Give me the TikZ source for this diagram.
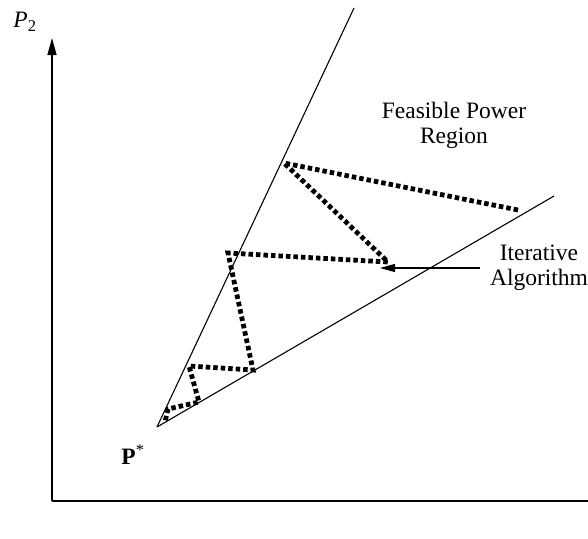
\documentclass[tikz,border=0pt]{standalone}
\usepackage{fontspec}
\setmainfont{Liberation Serif}
\usetikzlibrary{arrows.meta}
\begin{document}
\begin{tikzpicture}[x=1pt,y=-1pt,
  axisline/.style={line width=1.6pt},
  boundline/.style={line width=1.1pt},
  iterpath/.style={line width=4.8pt,dash pattern=on 4.5pt off 3pt},
  lbl/.style={font=\fontsize{23.5}{25}\selectfont,align=center,inner sep=0pt}]
\useasboundingbox (0,0) rectangle (588,538);
% axes
\coordinate (O) at (52,501);
\coordinate (Ytop) at (52,38);
\coordinate (Xend) at (588,501);
\draw[axisline,-{Triangle[length=17pt,width=9pt]}] (O) -- (Ytop);
\draw[axisline] (O) -- (Xend);
% boundary lines
\coordinate (Ps) at (157,427);
\coordinate (U) at (354,8);
\coordinate (L) at (554,196);
\draw[boundline] (Ps) -- (U);
\draw[boundline] (Ps) -- (L);
% iterative path
\coordinate (p0) at (518,210);
\coordinate (p1) at (284,163);
\coordinate (p2) at (388,262);
\coordinate (p3) at (228,253);
\coordinate (p4) at (253,370);
\coordinate (p5) at (189,366);
\coordinate (p6) at (199,402);
\coordinate (p7) at (168,409);
\coordinate (p8) at (165,422);
\draw[iterpath] (p0) -- (p1) -- (p2) -- (p3) -- (p4) -- (p5) -- (p6) -- (p7) -- (p8);
% labels
\node[lbl] (p2lab) at (25,22) {\textit{P}\textsubscript{2}};
\node[lbl] (pstar) at (133,455) {\textbf{P}\textsuperscript{*}};
\node[lbl] (feas) at (454,125) {Feasible Power\\Region};
\node[lbl] (iter) at (539,268) {Iterative\\Algorithm};
\coordinate (arrtip) at (380,268);
\coordinate (arrtail) at (480,268);
\draw[line width=1.1pt,-{Triangle[length=15pt,width=8pt]}] (arrtail) -- (arrtip);
\end{tikzpicture}
\end{document}
